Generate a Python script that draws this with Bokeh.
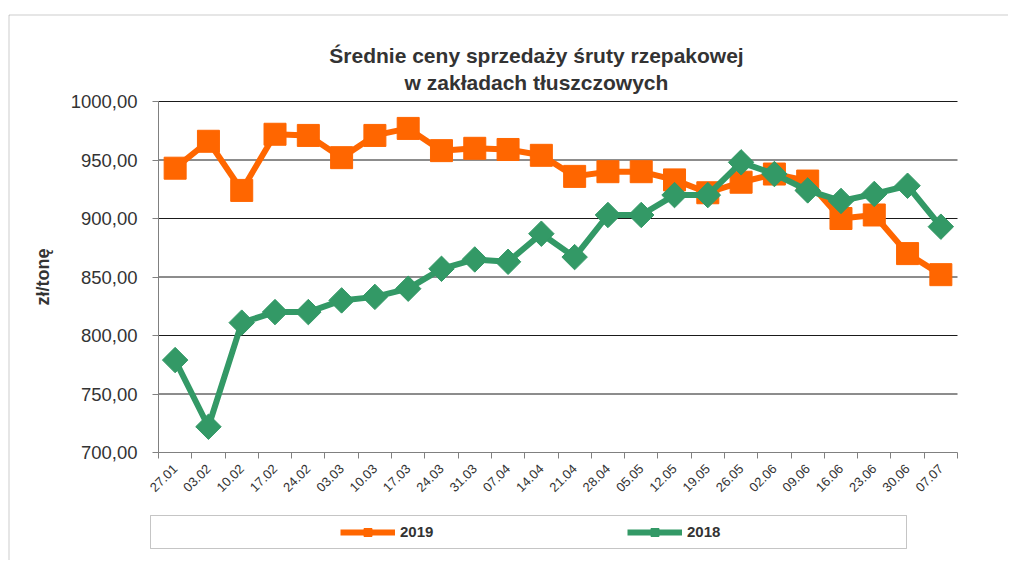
import numpy as np
from math import pi
from bokeh.plotting import figure
from bokeh.models import (Range1d, FixedTicker, Legend, LegendItem, Label,
                          BoxAnnotation, ColumnDataSource)
from bokeh.embed import file_html
from bokeh.resources import INLINE

dates = ["27.01", "03.02", "10.02", "17.02", "24.02", "03.03", "10.03", "17.03",
         "24.03", "31.03", "07.04", "14.04", "21.04", "28.04", "05.05", "12.05",
         "19.05", "26.05", "02.06", "09.06", "16.06", "23.06", "30.06", "07.07"]
v2019 = [943, 966, 924, 972, 971, 952, 971, 977, 958, 960, 959, 954,
         936, 940, 940, 933, 922, 931, 938, 932, 900, 903, 870, 852]
v2018 = [779, 722, 811, 820, 820, 830, 833, 840, 857, 865, 863, 887,
         867, 903, 903, 920, 920, 948, 938, 924, 915, 921, 928, 893]
y_ticks = [700, 750, 800, 850, 900, 950, 1000]
y_tick_labels = ["700,00", "750,00", "800,00", "850,00", "900,00", "950,00", "1000,00"]
title_text = "Średnie ceny sprzedaży śruty rzepakowej\nw zakładach tłuszczowych"
y_label = "zł/tonę"

FONT = "Liberation Sans"
ORANGE = "#FF6600"
GREEN = "#339966"
TXT = "#333333"

# layout (pixels on the canvas)
W, H = 1008, 560
PLOT_L, PLOT_R, PLOT_T, PLOT_B = 158, 957, 101, 452

n = len(dates)
y_lo, y_hi = y_ticks[0], y_ticks[-1]
ppx = (PLOT_R - PLOT_L) / n
ppy = (PLOT_B - PLOT_T) / (y_hi - y_lo)
x_range = Range1d(-PLOT_L / ppx, n + (W - PLOT_R) / ppx)
y_range = Range1d(y_lo - (H - PLOT_B) / ppy, y_hi + PLOT_T / ppy)

centers = [i + 0.5 for i in range(n)]
bounds = [float(i) for i in range(n + 1)]

src = ColumnDataSource(dict(x=centers, d=dates, a=v2019, b=v2018))

p = figure(width=W, height=H, output_backend="svg", toolbar_location=None,
           x_range=x_range, y_range=y_range, min_border=0)
p.outline_line_color = None
p.background_fill_color = "white"
p.border_fill_color = "white"

p.xgrid.visible = False
p.ygrid.visible = False
# horizontal grid lines limited to the plot area
grid_y = y_ticks[1:]
p.segment(x0=[0] * len(grid_y), x1=[n] * len(grid_y), y0=grid_y, y1=grid_y,
          line_color="#1a1a1a", line_width=1)

# y axis
p.yaxis.fixed_location = 0
p.yaxis.bounds = (y_lo, y_hi)
p.yaxis.ticker = FixedTicker(ticks=y_ticks)
p.yaxis.major_label_overrides = {t: l for t, l in zip(y_ticks, y_tick_labels)}
p.yaxis.axis_line_color = "#808080"
p.yaxis.major_tick_line_color = "#808080"
p.yaxis.major_tick_out = 6
p.yaxis.major_tick_in = 0
p.yaxis.minor_tick_line_color = None
p.yaxis.major_label_standoff = 15
p.yaxis.major_label_text_font = FONT
p.yaxis.major_label_text_font_size = "18.5px"
p.yaxis.major_label_text_color = TXT
p.yaxis.axis_label = y_label
p.yaxis.axis_label_text_font = FONT
p.yaxis.axis_label_text_font_size = "18px"
p.yaxis.axis_label_text_font_style = "bold"
p.yaxis.axis_label_text_color = TXT
p.yaxis.axis_label_standoff = 15

# x axis
p.xaxis.fixed_location = y_lo
p.xaxis.bounds = (0, n)
p.xaxis.ticker = FixedTicker(ticks=centers, minor_ticks=bounds)
p.xaxis.major_label_overrides = {c: d for c, d in zip(centers, dates)}
p.xaxis.axis_line_color = "#808080"
p.xaxis.major_tick_line_color = None
p.xaxis.major_tick_out = 0
p.xaxis.major_tick_in = 0
p.xaxis.minor_tick_line_color = "#808080"
p.xaxis.minor_tick_out = 6
p.xaxis.minor_tick_in = 0
p.xaxis.major_label_orientation = pi / 4
p.xaxis.major_label_standoff = 8
p.xaxis.major_label_text_font = FONT
p.xaxis.major_label_text_font_size = "13px"
p.xaxis.major_label_text_color = TXT

# series
l19 = p.line("x", "a", source=src, color=ORANGE, line_width=6)
m19 = p.scatter("x", "a", source=src, marker="square", size=22, color=ORANGE)
l18 = p.line("x", "b", source=src, color=GREEN, line_width=6)
m18 = p.scatter("x", "b", source=src, marker="square", angle=pi / 4, size=18, color=GREEN)

# legend box and outer frame
p.add_layout(BoxAnnotation(left=150, right=906, top=H - 515, bottom=H - 548,
                           left_units="screen", right_units="screen",
                           top_units="screen", bottom_units="screen",
                           fill_alpha=0, line_color="#404040", line_width=1))
p.add_layout(BoxAnnotation(left=8.5, right=W + 100, top=H - 14.5, bottom=-100,
                           left_units="screen", right_units="screen",
                           top_units="screen", bottom_units="screen",
                           fill_alpha=0, line_color="#595959", line_width=1))

legend = Legend(items=[LegendItem(label="2019", renderers=[l19, m19]),
                       LegendItem(label="2018", renderers=[l18, m18])],
                location=(340, H - 541.5), orientation="horizontal",
                padding=0, spacing=193, label_width=34, glyph_width=55,
                glyph_height=20, label_standoff=5, border_line_color=None,
                background_fill_alpha=0, label_text_font=FONT,
                label_text_font_size="15px", label_text_font_style="bold",
                label_text_color=TXT, margin=0)
p.add_layout(legend, "center")

p.add_layout(Label(x=536, y=H - 68.5, x_units="screen", y_units="screen",
                   text=title_text, text_align="center", text_baseline="middle",
                   text_font=FONT, text_font_size="21px", text_font_style="bold",
                   text_color=TXT, text_line_height=1.2))

open("out.html", "w").write(file_html(p, INLINE))
